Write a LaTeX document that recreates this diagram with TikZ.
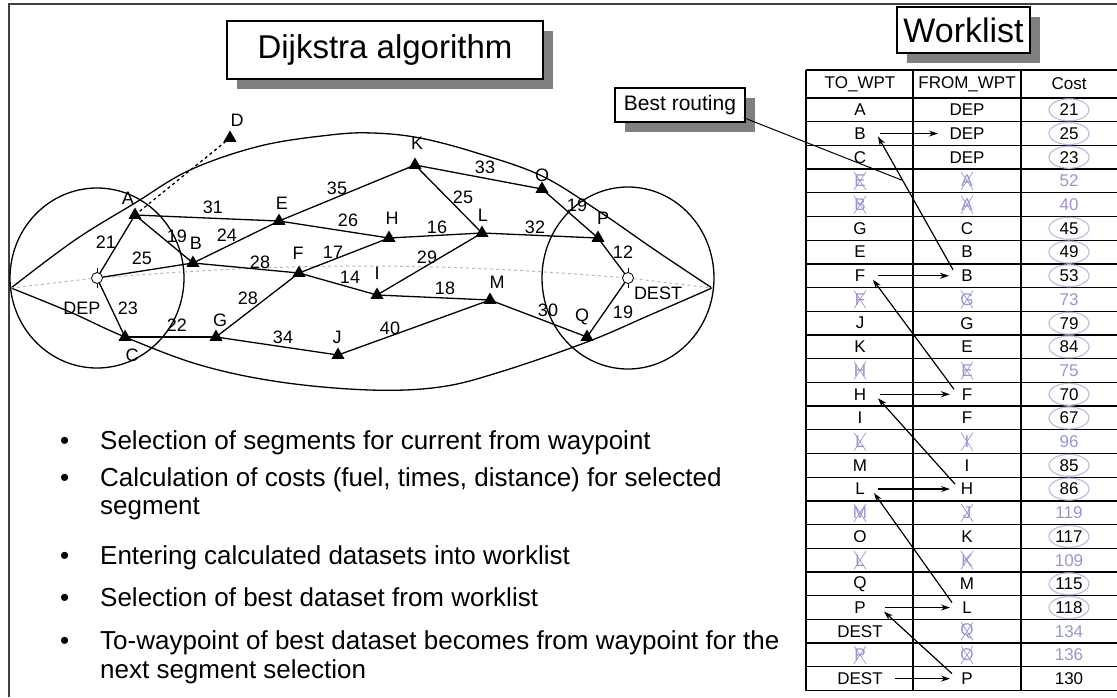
\documentclass[tikz,border=0pt]{standalone}
\usepackage{fontspec}
\setmainfont{Liberation Sans}
\usetikzlibrary{shapes.geometric,shadows,calc,arrows.meta}
\definecolor{fadec}{RGB}{150,150,215}
\definecolor{ellc}{RGB}{190,190,225}
\definecolor{shadowc}{RGB}{128,128,128}
\newcommand{\fsz}[1]{\fontsize{#1}{#1}\selectfont}
\begin{document}
\begin{tikzpicture}[x=1pt,y=-1pt,
  wpt/.style={regular polygon, regular polygon sides=3, fill=black, minimum size=15pt, inner sep=0pt},
  apt/.style={circle, draw, fill=white, minimum size=11pt, inner sep=0pt, line width=0.8pt},
  lbl/.style={font=\fsz{18}, inner sep=1pt},
  edge/.style={line width=1.3pt},
  titlebox/.style={draw, fill=white, line width=1.6pt, inner sep=0pt,
    drop shadow={shadow xshift=10pt, shadow yshift=-10pt, fill=shadowc, opacity=1}},
  cell/.style={font=\fsz{17}, inner sep=1pt},
  arr/.style={-{Stealth[length=9pt,width=6pt]}, line width=1.2pt},
  bul/.style={font=\fsz{26}, anchor=base west, inner sep=0pt},
]
\useasboundingbox (0,0) rectangle (1117,697);

% frame
\draw[line width=2pt, black!75] (9,697) -- (9,4) -- (1117,4);

% title boxes
\node[titlebox, minimum width=316pt, minimum height=58pt, font=\fsz{33}] (title) at (385,50) {Dijkstra algorithm};
\node[titlebox, minimum width=133pt, minimum height=46pt, font=\fsz{34}] (wl) at (963.5,30) {Worklist};
\node[titlebox, line width=1.4pt, minimum width=130pt, minimum height=34pt, font=\fsz{21}] (bestbox) at (680,105) {Best routing};

% graph coordinates
\coordinate (DEP) at (97,278);
\coordinate (DEST) at (628,278);
\coordinate (A) at (135,215);
\coordinate (B) at (193,263);
\coordinate (C) at (125,337);
\coordinate (D) at (230,138);
\coordinate (E) at (279,221);
\coordinate (F) at (299,273);
\coordinate (G) at (216,337);
\coordinate (H) at (389,238);
\coordinate (I) at (377,295);
\coordinate (J) at (338,355);
\coordinate (K) at (415,165);
\coordinate (L) at (482,233);
\coordinate (M) at (490,300);
\coordinate (O) at (542,189);
\coordinate (P) at (598,238);
\coordinate (Q) at (587,337);
\coordinate (lap) at (11,288);
\coordinate (rap) at (712,288);

% circles and lens
\draw[edge] (DEP) ellipse [x radius=87pt, y radius=90pt];
\draw[edge] (DEST) ellipse [x radius=86pt, y radius=91pt];
\draw[edge] plot[smooth, tension=0.6] coordinates {(lap) (75,240) (135,203) (190,170) (260,146) (330,135) (373,133) (420,138) (477,153) (542,176) (600,212) (655,250) (rap)};
\draw[edge] plot[smooth, tension=0.6] coordinates {(lap) (70,312) (125,337) (200,365) (280,382) (370,390) (440,387) (500,372) (587,342) (650,315) (rap)};
\draw[dashed, gray!55, line width=1pt] (lap) -- (DEP) .. controls (300,262) and (430,262) .. (DEST) -- (rap);

% edges
\draw[edge] (DEP) -- (A);
\draw[edge] (DEP) -- (B);
\draw[edge] (DEP) -- (C);
\draw[edge, dashed] (A) -- (D);
\draw[edge] (A) -- (E);
\draw[edge] (A) -- (B);
\draw[edge] (B) -- (E);
\draw[edge] (B) -- (F);
\draw[edge] (C) -- (G);
\draw[edge] (G) -- (F);
\draw[edge] (G) -- (J);
\draw[edge] (E) -- (K);
\draw[edge] (E) -- (H);
\draw[edge] (F) -- (H);
\draw[edge] (F) -- (I);
\draw[edge] (K) -- (O);
\draw[edge] (K) -- (L);
\draw[edge] (H) -- (L);
\draw[edge] (I) -- (L);
\draw[edge] (I) -- (M);
\draw[edge] (J) -- (M);
\draw[edge] (O) -- (P);
\draw[edge] (L) -- (P);
\draw[edge] (M) -- (Q);
\draw[edge] (P) -- (DEST);
\draw[edge] (Q) -- (DEST);

% markers
\foreach \n in {A,B,C,D,E,F,G,H,I,J,K,L,M,O,P,Q} \node[wpt] (m\n) at (\n) {};
\draw[line width=0.8pt] ($(DEP)+(0,-10)$) -- ($(DEP)+(0,10)$);
\draw[line width=0.8pt] ($(DEST)+(0,-10)$) -- ($(DEST)+(0,10)$);
\node[apt] (mDEP) at (DEP) {};
\node[apt] (mDEST) at (DEST) {};

% waypoint labels
\node[lbl] (lA) at (128,198) {A};
\node[lbl] (lB) at (196,243) {B};
\node[lbl] (lC) at (132,355) {C};
\node[lbl] (lD) at (237,120) {D};
\node[lbl] (lE) at (282,203) {E};
\node[lbl] (lF) at (298,253) {F};
\node[lbl] (lG) at (220,320) {G};
\node[lbl] (lH) at (392,218) {H};
\node[lbl] (lI) at (377,273) {I};
\node[lbl] (lJ) at (337,337) {J};
\node[lbl] (lK) at (417,143) {K};
\node[lbl] (lL) at (483,215) {L};
\node[lbl] (lM) at (497,282) {M};
\node[lbl] (lO) at (542,175) {O};
\node[lbl] (lP) at (603,218) {P};
\node[lbl] (lQ) at (582,317) {Q};
\node[lbl] (lDEP) at (82,308) {DEP};
\node[lbl] (lDEST) at (658,293) {DEST};

% edge cost labels
\node[lbl] (c21) at (106,242) {21};
\node[lbl] (c25) at (142,258) {25};
\node[lbl] (c23) at (128,308) {23};
\node[lbl] (c19a) at (177,236) {19};
\node[lbl] (c31) at (213,207) {31};
\node[lbl] (c24) at (227,235) {24};
\node[lbl] (c28a) at (260,262) {28};
\node[lbl] (c28b) at (248,298) {28};
\node[lbl] (c22) at (177,325) {22};
\node[lbl] (c34) at (283,337) {34};
\node[lbl] (c35) at (337,188) {35};
\node[lbl] (c26) at (348,220) {26};
\node[lbl] (c17) at (333,252) {17};
\node[lbl] (c14) at (350,277) {14};
\node[lbl] (c33) at (485,167) {33};
\node[lbl] (c25b) at (463,197) {25};
\node[lbl] (c16) at (437,227) {16};
\node[lbl] (c32) at (535,227) {32};
\node[lbl] (c29) at (427,257) {29};
\node[lbl] (c18) at (445,288) {18};
\node[lbl] (c40) at (390,328) {40};
\node[lbl] (c19b) at (577,205) {19};
\node[lbl] (c12) at (623,252) {12};
\node[lbl] (c30) at (548,310) {30};
\node[lbl] (c19c) at (623,312) {19};

% bullets
\foreach \y/\t [count=\k] in {449/Selection of segments for current from waypoint,
  486/{Calculation of costs (fuel, times, distance) for selected},
  564/Entering calculated datasets into worklist,
  606/Selection of best dataset from worklist,
  649/To-waypoint of best dataset becomes from waypoint for the}
{
  \node[bul] (dot\k) at (60,\y) {•};
  \node[bul] (txt\k) at (100,\y) {\t};
}
\node[bul] (txt2b) at (100,514) {segment};
\node[bul] (txt5b) at (100,678) {next segment selection};

% table grid
\foreach \x in {806,913,1021} \draw[line width=1.3pt] (\x,70) -- (\x,690.5);
\draw[line width=1.3pt] (806,70) -- (1117,70);
\draw[line width=1.3pt] (806,98) -- (1117,98);
\foreach \k in {1,...,25} \draw[line width=1.3pt] (806,{98+23.7*\k}) -- (1117,{98+23.7*\k});

% header
\node[cell] (h1) at (860,84) {TO\_WPT};
\node[cell] (h2) at (967,84) {FROM\_WPT};
\node[cell] (h3) at (1069,84) {Cost};

% rows
\foreach \i/\a/\ca/\b/\cb/\c/\cc in {
0/A/black/DEP/black/21/black,
1/B/black/DEP/black/25/black,
2/C/black/DEP/black/23/black,
3/E/fadec/A/fadec/52/fadec,
4/B/fadec/A/fadec/40/fadec,
5/G/black/C/black/45/black,
6/E/black/B/black/49/black,
7/F/black/B/black/53/black,
8/F/fadec/G/fadec/73/fadec,
9/J/black/G/black/79/black,
10/K/black/E/black/84/black,
11/H/fadec/E/fadec/75/fadec,
12/H/black/F/black/70/black,
13/I/black/F/black/67/black,
14/L/fadec/I/fadec/96/fadec,
15/M/black/I/black/85/black,
16/L/black/H/black/86/black,
17/M/fadec/J/fadec/119/fadec,
18/O/black/K/black/117/black,
19/L/fadec/K/fadec/109/fadec,
20/Q/black/M/black/115/black,
21/P/black/L/black/118/black,
22/DEST/black/Q/fadec/134/fadec,
23/P/fadec/O/fadec/136/fadec,
24/DEST/black/P/black/130/black}
{
  \pgfmathsetmacro{\yy}{109.85+23.7*\i}
  \node[cell, text=\ca] (t1-\i) at (860,\yy) {\a};
  \node[cell, text=\cb] (t2-\i) at (967,\yy) {\b};
  \node[cell, text=\cc] (t3-\i) at (1069,\yy) {\c};
}

% cost ellipses
\foreach \i in {0,1,2,5,6,7,9,10,12,13,15,16,18,20,21}
  \draw[ellc, line width=1.2pt] (t3-\i) ellipse [x radius=20pt, y radius=11pt];

% crossed-out entries
\foreach \n in {t1-3,t2-3,t1-4,t2-4,t1-8,t2-8,t1-11,t2-11,t1-14,t2-14,t1-17,t2-17,t1-19,t2-19,t2-22,t1-23,t2-23}
  \draw[fadec, line width=0.7pt] ($(\n.center)+(-6,-9)$) -- ($(\n.center)+(6,9)$) ($(\n.center)+(6,-9)$) -- ($(\n.center)+(-6,9)$);

% horizontal arrows
\draw[arr] ($(t1-1)+(20,0)$) -- ($(t2-1)+(-29,0)$);
\draw[arr] ($(t1-7)+(18,0)$) -- ($(t2-7)+(-18,0)$);
\draw[arr] ($(t1-12)+(20,0)$) -- ($(t2-12)+(-17,0)$);
\draw[arr] ($(t1-16)+(18,0)$) -- ($(t2-16)+(-17,0)$);
\draw[arr] ($(t1-21)+(25,0)$) -- ($(t2-21)+(-17,0)$);
\draw[arr] ($(t1-24)+(35,0)$) -- ($(t2-24)+(-17,0)$);

% back-tracking arrows
\coordinate (s1) at ($(t2-7)+(-14,-6)$);
\coordinate (e1) at ($(t1-1)+(18,3)$);
\draw[arr] (s1) -- (e1);
\draw[arr] ($(t2-12)+(-13,-5)$) -- ($(t1-7)+(13,4)$);
\draw[arr] ($(t2-16)+(-12,-5)$) -- ($(t1-12)+(18,4)$);
\draw[arr] ($(t2-21)+(-15,-5)$) -- ($(t1-16)+(14,4)$);
\draw[arr] ($(t2-24)+(-15,-5)$) -- ($(t1-21)+(24,4)$);

% best routing pointer
\draw[line width=1pt] ($(bestbox.south east)+(-2,-5)$) -- ($(s1)!0.67!(e1)$);
\end{tikzpicture}
\end{document}
